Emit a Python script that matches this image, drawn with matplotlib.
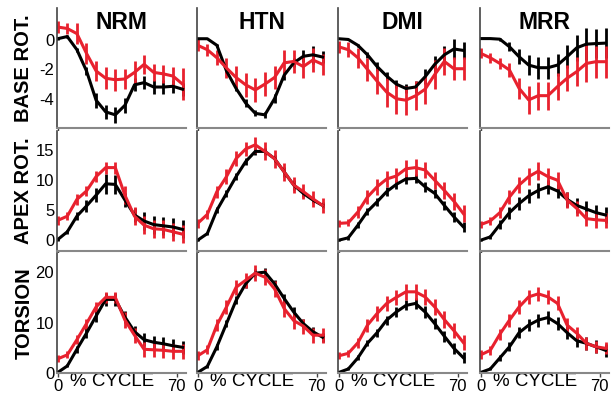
import numpy as np
import matplotlib
matplotlib.use("Agg")
import matplotlib.pyplot as plt

plt.rcParams['font.family'] = ['Liberation Sans', 'DejaVu Sans']
plt.rcParams['axes.unicode_minus'] = False

# % cycle sample points (14 frames)
x_pct = [0, 5.65, 11.3, 16.95, 22.6, 28.25, 33.9, 39.55, 45.2, 50.85, 56.5, 62.15, 67.8, 73.45]

groups = ['NRM', 'HTN', 'DMI', 'MRR']
rows = ['BASE ROT.', 'APEX ROT.', 'TORSION']

# ---- base rotation ----
nrm_base_k = [0.1, 0.25, -0.65, -2.1, -4.1, -4.9, -5.1, -4.45, -3.05, -2.9, -3.2, -3.2, -3.15, -3.35]
nrm_base_k_err = [0.1, 0.1, 0.15, 0.3, 0.5, 0.5, 0.55, 0.5, 0.45, 0.45, 0.45, 0.45, 0.45, 0.45]
nrm_base_r = [0.9, 0.8, 0.45, -0.9, -2.1, -2.6, -2.7, -2.65, -2.2, -1.65, -2.2, -2.3, -2.45, -3.0]
nrm_base_r_err = [0.4, 0.4, 0.7, 0.7, 0.7, 0.75, 0.75, 0.7, 0.8, 0.65, 0.6, 0.6, 0.65, 1.1]

htn_base_k = [0.1, 0.1, -0.35, -2.1, -3.3, -4.3, -5.0, -5.1, -4.0, -2.4, -1.55, -1.1, -1.0, -1.15]
htn_base_k_err = [0.05, 0.05, 0.1, 0.15, 0.2, 0.25, 0.2, 0.2, 0.3, 0.3, 0.3, 0.4, 0.6, 0.4]
htn_base_r = [-0.35, -0.65, -1.2, -1.9, -2.55, -3.05, -3.4, -3.0, -2.55, -1.55, -1.45, -1.8, -1.35, -1.65]
htn_base_r_err = [0.4, 0.4, 0.5, 0.7, 0.8, 0.8, 0.8, 0.8, 0.8, 0.9, 0.8, 0.8, 0.8, 0.7]

dmi_base_k = [0.1, 0.05, -0.35, -1.0, -1.8, -2.45, -3.0, -3.3, -3.2, -2.5, -1.65, -1.0, -0.6, -0.7]
dmi_base_k_err = [0.05, 0.05, 0.1, 0.2, 0.3, 0.3, 0.3, 0.3, 0.4, 0.5, 0.6, 0.6, 0.7, 0.6]
dmi_base_r = [-0.45, -0.65, -1.2, -2.0, -2.8, -3.55, -4.0, -4.1, -3.8, -3.35, -2.35, -1.45, -1.95, -1.95]
dmi_base_r_err = [0.4, 0.5, 0.7, 0.8, 0.9, 1.0, 1.05, 1.0, 1.0, 1.0, 1.0, 0.9, 0.8, 0.8]

mrr_base_k = [0.11, 0.11, 0.07, -0.45, -1.13, -1.7, -1.88, -1.88, -1.7, -1.13, -0.52, -0.27, -0.23, -0.2]
mrr_base_k_err = [0.05, 0.05, 0.1, 0.3, 0.5, 0.7, 0.75, 0.75, 0.75, 0.8, 0.9, 1.1, 1.0, 1.0]
mrr_base_r = [-0.9, -1.2, -1.59, -2.04, -3.29, -4.08, -3.79, -3.79, -3.17, -2.6, -2.15, -1.59, -1.47, -1.47]
mrr_base_r_err = [0.35, 0.35, 0.4, 0.5, 0.7, 0.95, 0.95, 0.95, 0.9, 0.9, 1.0, 1.25, 1.1, 1.1]

# ---- apex rotation ----
nrm_apex_k = [0.1, 1.4, 4.0, 5.7, 7.5, 9.4, 9.3, 6.7, 4.2, 3.2, 2.6, 2.4, 2.2, 1.8]
nrm_apex_k_err = [0.3, 0.3, 0.7, 1.0, 1.2, 1.7, 1.6, 1.2, 1.2, 1.5, 1.5, 1.5, 1.5, 1.5]
nrm_apex_r = [3.3, 4.0, 6.8, 8.2, 10.6, 12.1, 12.1, 7.5, 4.0, 2.5, 1.9, 1.8, 1.4, 1.0]
nrm_apex_r_err = [0.7, 0.7, 0.9, 0.9, 0.9, 1.0, 1.0, 1.5, 1.5, 1.5, 1.5, 1.5, 1.5, 1.5]

htn_apex_k = [0.0, 1.1, 5.0, 7.8, 10.6, 13.1, 14.8, 14.8, 13.6, 11.4, 9.2, 7.8, 6.7, 5.8]
htn_apex_k_err = [0.2, 0.3, 0.5, 0.6, 0.6, 0.6, 0.6, 0.6, 0.6, 0.8, 0.8, 0.6, 0.5, 0.5]
htn_apex_r = [2.8, 4.3, 8.1, 10.6, 13.6, 15.2, 15.9, 14.8, 13.6, 11.4, 9.2, 8.1, 6.9, 5.8]
htn_apex_r_err = [0.8, 0.8, 1.0, 1.2, 1.2, 1.2, 1.3, 1.5, 1.5, 1.5, 1.4, 1.3, 1.3, 1.3]

dmi_apex_k = [0.0, 0.4, 2.5, 4.8, 6.4, 8.1, 9.3, 10.2, 10.3, 8.9, 7.8, 5.8, 3.9, 2.2]
dmi_apex_k_err = [0.2, 0.3, 0.5, 0.6, 0.7, 0.7, 0.8, 0.8, 0.8, 0.8, 0.8, 0.8, 0.8, 0.8]
dmi_apex_r = [2.8, 2.9, 4.7, 7.2, 8.9, 10.2, 10.7, 11.9, 12.1, 11.7, 10.0, 8.3, 6.5, 4.4]
dmi_apex_r_err = [0.6, 0.6, 1.0, 1.2, 1.3, 1.3, 1.3, 1.4, 1.4, 1.4, 1.4, 1.4, 1.4, 1.4]

mrr_apex_k = [0.0, 0.55, 2.6, 4.6, 6.1, 7.4, 8.3, 8.9, 8.2, 6.8, 5.8, 5.2, 4.6, 4.2]
mrr_apex_k_err = [0.2, 0.3, 0.7, 1.0, 1.1, 1.2, 1.2, 1.2, 1.2, 1.3, 1.3, 1.3, 1.3, 1.3]
mrr_apex_r = [2.6, 3.2, 4.6, 7.2, 9.2, 10.6, 11.5, 10.6, 10.0, 6.7, 5.3, 3.6, 3.4, 3.3]
mrr_apex_r_err = [0.6, 0.6, 0.9, 1.2, 1.3, 1.4, 1.5, 1.4, 1.4, 1.4, 1.3, 1.3, 1.3, 1.2]

# ---- torsion ----
nrm_tor_k = [0.1, 1.4, 4.7, 7.9, 11.3, 14.6, 14.6, 11.1, 8.2, 6.6, 6.1, 5.8, 5.4, 5.1]
nrm_tor_k_err = [0.3, 0.3, 0.7, 1.0, 1.2, 1.3, 1.3, 1.2, 1.2, 1.3, 1.3, 1.3, 1.3, 1.3]
nrm_tor_r = [2.8, 3.6, 6.6, 9.8, 13.1, 15.0, 15.0, 10.5, 7.5, 4.7, 4.6, 4.5, 4.3, 4.3]
nrm_tor_r_err = [0.7, 0.7, 0.9, 1.0, 1.0, 1.1, 1.1, 1.5, 1.5, 1.5, 1.5, 1.5, 1.5, 1.5]

htn_tor_k = [0.1, 1.3, 5.2, 9.8, 14.4, 17.7, 19.8, 20.0, 17.7, 14.8, 12.1, 9.8, 8.2, 7.1]
htn_tor_k_err = [0.2, 0.3, 0.6, 0.7, 0.8, 0.8, 0.8, 0.8, 0.8, 0.9, 0.9, 0.9, 0.9, 0.9]
htn_tor_r = [3.4, 4.6, 9.5, 13.1, 17.0, 18.4, 19.8, 19.0, 16.7, 12.8, 10.4, 9.3, 7.5, 7.5]
htn_tor_r_err = [0.9, 0.9, 1.2, 1.4, 1.5, 1.5, 1.6, 1.6, 1.6, 1.6, 1.6, 1.5, 1.5, 1.5]

dmi_tor_k = [0.1, 0.8, 3.0, 5.9, 8.0, 10.5, 12.1, 13.4, 13.8, 12.1, 9.8, 7.3, 4.9, 3.0]
dmi_tor_k_err = [0.2, 0.3, 0.5, 0.6, 0.8, 0.9, 1.0, 1.0, 1.1, 1.1, 1.1, 1.1, 1.1, 1.1]
dmi_tor_r = [3.4, 3.9, 6.0, 9.5, 11.8, 13.8, 15.0, 16.1, 16.1, 15.1, 13.1, 10.6, 8.4, 6.0]
dmi_tor_r_err = [0.7, 0.7, 1.0, 1.3, 1.4, 1.5, 1.5, 1.6, 1.6, 1.6, 1.6, 1.6, 1.5, 1.5]

mrr_tor_k = [0.1, 0.8, 3.0, 5.2, 8.0, 9.5, 10.5, 11.0, 9.8, 8.0, 6.4, 5.9, 5.2, 4.5]
mrr_tor_k_err = [0.2, 0.3, 0.6, 0.9, 1.1, 1.2, 1.3, 1.3, 1.3, 1.3, 1.3, 1.3, 1.3, 1.3]
mrr_tor_r = [3.6, 4.5, 7.7, 10.5, 13.1, 15.1, 15.7, 15.1, 13.8, 9.5, 7.9, 5.9, 5.2, 4.9]
mrr_tor_r_err = [0.9, 0.9, 1.1, 1.3, 1.4, 1.4, 1.4, 1.4, 1.4, 1.4, 1.3, 1.3, 1.2, 1.2]

panels = [
    [(nrm_base_k, nrm_base_k_err, nrm_base_r, nrm_base_r_err),
     (htn_base_k, htn_base_k_err, htn_base_r, htn_base_r_err),
     (dmi_base_k, dmi_base_k_err, dmi_base_r, dmi_base_r_err),
     (mrr_base_k, mrr_base_k_err, mrr_base_r, mrr_base_r_err)],
    [(nrm_apex_k, nrm_apex_k_err, nrm_apex_r, nrm_apex_r_err),
     (htn_apex_k, htn_apex_k_err, htn_apex_r, htn_apex_r_err),
     (dmi_apex_k, dmi_apex_k_err, dmi_apex_r, dmi_apex_r_err),
     (mrr_apex_k, mrr_apex_k_err, mrr_apex_r, mrr_apex_r_err)],
    [(nrm_tor_k, nrm_tor_k_err, nrm_tor_r, nrm_tor_r_err),
     (htn_tor_k, htn_tor_k_err, htn_tor_r, htn_tor_r_err),
     (dmi_tor_k, dmi_tor_k_err, dmi_tor_r, dmi_tor_r_err),
     (mrr_tor_k, mrr_tor_k_err, mrr_tor_r, mrr_tor_r_err)],
]

ylims = [(-6.0, 2.2), (-1.8, 18.2), (0.0, 23.8)]
yticks = [[-4, -2, 0], [0, 5, 10, 15], [0, 10, 20]]

W, H = 611, 394
fig = plt.figure(figsize=(W / 100, H / 100), dpi=100)

col_left = [57, 197, 338, 480]
row_top = [8, 131, 253]
ax_w, ax_h = 129, 120
RED = '#e8212e'

for r in range(3):
    for c in range(4):
        ax = fig.add_axes([col_left[c] / W, 1 - (row_top[r] + ax_h) / H, ax_w / W, ax_h / H])
        k, ke, rd, re = panels[r][c]
        ax.errorbar(x_pct, k, yerr=ke, color='black', lw=2.2, elinewidth=2, capsize=0)
        ax.errorbar(x_pct, rd, yerr=re, color=RED, lw=2.2, elinewidth=2, capsize=0)
        ax.set_xlim(-0.4, 75.5)
        ax.set_ylim(*ylims[r])
        for s in ['top', 'right']:
            ax.spines[s].set_visible(False)
        ax.spines['left'].set_color('#444444')
        ax.spines['bottom'].set_color('#888888')
        ax.spines['left'].set_linewidth(1.2)
        ax.spines['bottom'].set_linewidth(1.5)

        if c == 0:
            ax.set_yticks(yticks[r])
            ax.tick_params(axis='y', length=0, pad=2, labelsize=12)
            fig.text(24 / W, 1 - (row_top[r] + ax_h / 2) / H, rows[r], rotation=90,
                     ha='center', va='center', fontsize=14.5, fontweight='bold')
        else:
            ax.set_yticks([])

        if r == 2:
            ax.set_xticks([0, 70])
            ax.set_xticklabels(['0', '70'])
            ax.tick_params(axis='x', length=3, width=1, color='#444444', pad=1, labelsize=12)
            ax.set_xlabel('% CYCLE', fontsize=13.5)
            ax.xaxis.set_label_coords(0.43, 0.0)
            ax.xaxis.label.set_va('top')
        else:
            ax.set_xticks([0])
            ax.set_xticklabels([''])
            ax.tick_params(axis='x', length=3, width=1, color='#444444')

        if r == 0:
            ax.text(0.5, 0.88, groups[c], transform=ax.transAxes, ha='center', va='center',
                    fontsize=16.5, fontweight='bold')

fig.savefig('out.png', dpi=100)
